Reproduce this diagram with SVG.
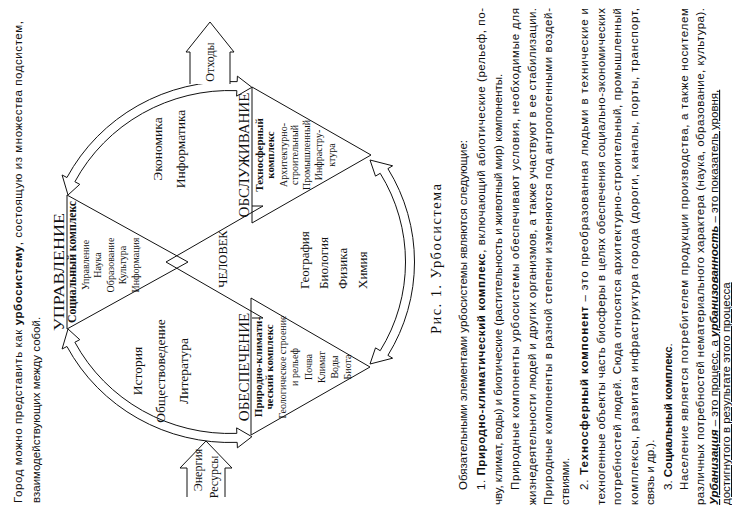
<svg xmlns="http://www.w3.org/2000/svg" width="732" height="517" viewBox="0 0 732 517">
<style>
.s{font-family:"Liberation Serif","Times New Roman",serif;fill:#111}
.b{font-family:"Liberation Sans",Arial,sans-serif;font-size:11.5px;fill:#111}
.m{text-anchor:middle}
.ln{fill:none;stroke:#111;stroke-width:1}
.ar{fill:#fff;stroke:#111;stroke-width:1}
.bd{font-weight:bold}
</style>
<rect width="732" height="517" fill="#fff"/>
<g transform="translate(0,517) rotate(-90)">
  <g id="intro">
    <text class="b" x="14" y="22" textLength="482" lengthAdjust="spacing">Город можно представить как <tspan class="bd">урбосистему</tspan>, состоящую из множества подсистем,</text>
    <text class="b" x="14" y="40">взаимодействующих между собой.</text>
  </g>
  <g id="connectors">
    <path class="ar" d="M339.46 66.94 A180.5 184.5 0 0 1 435.36 237.18 L440.86 237.39 L429.7 251.9 L420.87 236.61 L426.37 236.83 A171.5 175.5 0 0 0 335.24 74.89 L332.67 79.75 L322 68 L342.03 62.08 Z"/>
    <path class="ar" d="M348.35 387.91 A180.5 184.5 0 0 1 161.65 387.91 L158.80 392.62 L153 370 L169.14 375.50 L166.30 380.21 A171.5 175.5 0 0 0 343.70 380.21 L340.86 375.50 L357 370 L351.20 392.62 Z"/>
    <path class="ar" d="M170.54 66.94 A180.5 184.5 0 0 0 74.64 237.18 L69.14 237.39 L80.3 251.9 L89.13 236.61 L83.63 236.83 A171.5 175.5 0 0 1 174.76 74.89 L177.33 79.75 L188 68 L167.97 62.08 Z"/>
    <path class="ln" d="M255 166 L311 263 L311 252 M255 166 L199 263 L199 252"/>
  </g>
  <g id="out-arrow">
    <path class="ar" d="M433 190 L465 190 L465 186 L495 210 L465 234 L465 230 L433 230"/>
    <text class="s m" x="455" y="214" font-size="12">Отходы</text>
  </g>
  <g id="in-arrow">
    <path class="ar" d="M20 187 L49 187 L49 180 L76 206 L49 232 L49 225 L20 225"/>
    <text class="s m" x="47" y="202" font-size="12">Энергия</text>
    <text class="s m" x="40" y="218" font-size="12">Ресурсы</text>
  </g>
  <g id="upravlenie">
    <polygon class="ln" points="188,67 322,67 255,188"/>
    <text class="s m" x="245" y="64" font-size="15" textLength="118" lengthAdjust="spacingAndGlyphs">УПРАВЛЕНИЕ</text>
    <text class="s m bd" x="255" y="76" font-size="12" textLength="122" lengthAdjust="spacingAndGlyphs">Социальный комплекс</text>
    <text class="s m" x="252" y="89" font-size="10">Управление</text>
    <text class="s m" x="252" y="101" font-size="10">Наука</text>
    <text class="s m" x="252" y="114" font-size="10">Образование</text>
    <text class="s m" x="252" y="126" font-size="10">Культура</text>
    <text class="s m" x="252" y="139" font-size="10">Информация</text>
  </g>
  <g id="obsluzhivanie">
    <polygon class="ln" points="294,252 430,252 362,371"/>
    <text class="s m" x="362" y="249" font-size="15">ОБСЛУЖИВАНИЕ</text>
    <text class="s m bd" x="362" y="263" font-size="11">Техносферный</text>
    <text class="s m bd" x="362" y="274" font-size="11">комплекс</text>
    <text class="s m" x="362" y="287" font-size="10">Архитектурно-</text>
    <text class="s m" x="362" y="298" font-size="10">строительный</text>
    <text class="s m" x="362" y="310" font-size="10">Промышленный</text>
    <text class="s m" x="362" y="322" font-size="10">Инфрастру-</text>
    <text class="s m" x="362" y="335" font-size="10">ктура</text>
  </g>
  <g id="obespechenie">
    <polygon class="ln" points="82,251 219,251 150,370"/>
    <text class="s m" x="150" y="249" font-size="15">ОБЕСПЕЧЕНИЕ</text>
    <text class="s m bd" x="150" y="262" font-size="11">Природно-климати-</text>
    <text class="s m bd" x="150" y="273" font-size="11">ческий комплекс</text>
    <text class="s m" x="150" y="286" font-size="10">Геологическое строение</text>
    <text class="s m" x="150" y="298" font-size="10">и рельеф</text>
    <text class="s m" x="150" y="312" font-size="10">Почва</text>
    <text class="s m" x="150" y="325" font-size="10">Климат</text>
    <text class="s m" x="150" y="338" font-size="10">Воды</text>
    <text class="s m" x="150" y="351" font-size="10">Биота</text>
  </g>
  <g id="chelovek">
    <text class="s m" x="258" y="227" font-size="12.5">ЧЕЛОВЕК</text>
  </g>
  <g id="humanities">
    <text class="s m" x="146" y="142" font-size="13.5">История</text>
    <text class="s m" x="146" y="165" font-size="13.5">Обществоведение</text>
    <text class="s m" x="146" y="188" font-size="13.5">Литература</text>
  </g>
  <g id="economics">
    <text class="s m" x="368" y="162" font-size="13.5">Экономика</text>
    <text class="s m" x="368" y="185" font-size="13.5">Информатика</text>
  </g>
  <g id="sciences">
    <text class="s" x="228" y="309" font-size="13">География</text>
    <text class="s" x="228" y="328" font-size="13">Биология</text>
    <text class="s" x="228" y="347" font-size="13">Физика</text>
    <text class="s" x="228" y="367" font-size="13">Химия</text>
  </g>
  <g id="caption">
    <text class="s m" x="258" y="441" font-size="14.5" textLength="150" lengthAdjust="spacing">Рис. 1. Урбосистема</text>
  </g>
  <g id="body">
    <text class="b" x="27" y="467">Обязательными элементами урбосистемы являются следующие:</text>
    <text class="b" x="27" y="485" textLength="482" lengthAdjust="spacing">1. <tspan class="bd">Природно-климатический комплекс</tspan>, включающий абиотические (рельеф, по-</text>
    <text class="b" x="12" y="502">чву, климат, воды) и биотические (растительность и животный мир) компоненты.</text>
    <text class="b" x="27" y="519" textLength="482" lengthAdjust="spacing">Природные компоненты урбосистемы обеспечивают условия, необходимые для</text>
    <text class="b" x="12" y="536" textLength="497" lengthAdjust="spacing">жизнедеятельности людей и других организмов, а также участвуют в ее стабилизации.</text>
    <text class="b" x="12" y="552" textLength="497" lengthAdjust="spacing">Природные компоненты в разной степени изменяются под антропогенными воздей-</text>
    <text class="b" x="12" y="569">ствиями.</text>
    <text class="b" x="27" y="588" textLength="482" lengthAdjust="spacing">2. <tspan class="bd">Техносферный компонент</tspan> – это преобразованная людьми в технические и</text>
    <text class="b" x="12" y="605" textLength="497" lengthAdjust="spacing">техногенные объекты часть биосферы в целях обеспечения социально-экономических</text>
    <text class="b" x="12" y="621" textLength="497" lengthAdjust="spacing">потребностей людей. Сюда относятся архитектурно-строительный, промышленный</text>
    <text class="b" x="12" y="638" textLength="497" lengthAdjust="spacing">комплексы, развитая инфраструктура города (дороги, каналы, порты, транспорт,</text>
    <text class="b" x="12" y="654">связь и др.).</text>
    <text class="b" x="27" y="672">3. <tspan class="bd">Социальный комплекс</tspan>.</text>
    <text class="b" x="27" y="688" textLength="482" lengthAdjust="spacing">Население является потребителем продукции производства, а также носителем</text>
    <text class="b" x="12" y="704" textLength="497" lengthAdjust="spacing">различных потребностей нематериального характера (наука, образование, культура).</text>
    <text class="b" x="12" y="718" text-decoration="underline"><tspan font-weight="bold" font-style="italic">Урбанизация</tspan> – это процесс, а <tspan font-weight="bold" font-style="italic">урбанизованность</tspan> – это показатель уровня,</text>
    <text class="b" x="12" y="730" text-decoration="underline">достигнутого в результате этого процесса</text>
  </g>
</g>
</svg>
